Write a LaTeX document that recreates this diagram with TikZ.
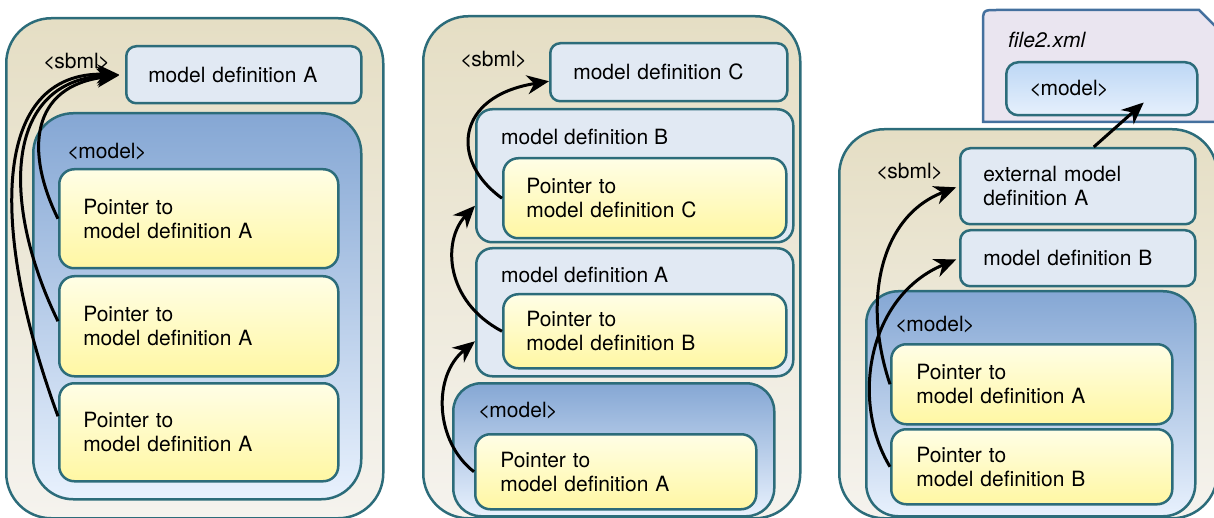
\documentclass[tikz,border=0pt]{standalone}
\usepackage{fontspec}
\setmainfont{TeX Gyre Heros}
\usetikzlibrary{arrows.meta}

\definecolor{edge}{HTML}{2C6C7A}
\definecolor{sbmltop}{HTML}{E5DEC4}
\definecolor{sbmlbot}{HTML}{F5F3EE}
\definecolor{deffill}{HTML}{E1E9F3}
\definecolor{modeltop}{HTML}{85A7D4}
\definecolor{modelbot}{HTML}{E8F1FD}
\definecolor{ptrtop}{HTML}{FFFEE6}
\definecolor{ptrbot}{HTML}{FFF7A3}
\definecolor{filefill}{HTML}{EAE5F0}
\definecolor{fileedge}{HTML}{44709E}
\definecolor{extop}{HTML}{BDD7F5}
\definecolor{exbot}{HTML}{E6F0FC}

\tikzset{
  box/.style={draw=edge, line width=2.5pt, anchor=north west, inner sep=0pt, align=left},
  sbmlbox/.style={box, rounded corners=45pt, top color=sbmltop, bottom color=sbmlbot},
  modelbox/.style={box, rounded corners=#1, top color=modeltop, bottom color=modelbot},
  defbox/.style={box, rounded corners=10pt, fill=deffill},
  ptrbox/.style={box, rounded corners=15pt, top color=ptrtop, bottom color=ptrbot},
  wh/.style 2 args={minimum width=#1pt, minimum height=#2pt},
  txt/.style 2 args={inner xsep=#1pt, text width=#2pt},
  tag/.style={anchor=west, inner sep=0pt},
  ref/.style={-{Stealth[length=22pt,width=19pt,inset=7pt]}, line width=3pt, black}
}

\begin{document}
\begin{tikzpicture}[x=1pt, y=-1pt, every node/.style={font=\fontsize{21}{24}\selectfont}]
\useasboundingbox (0,0) rectangle (1214,518);

% first file: three pointers to one definition
\node[sbmlbox, wh={377}{500}] (sbml1) at (5,17) {};
\node[tag] (sbmltag1) at (43,62) {<\kern-1pt sbml\kern-1pt>};
\node[defbox, wh={235}{57}, txt={22}{191}] (defA1) at (125,45) {model definition A};
\node[modelbox=40pt, wh={328}{386}] (model1) at (32,112) {};
\node[tag] (modeltag1) at (67,152) {<\kern-1pt model\kern-1pt>};
\node[ptrbox, wh={279}{99}, txt={24}{231}] (ptrA1a) at (58,168) {Pointer to\\model definition A};
\node[ptrbox, wh={279}{100}, txt={24}{231}] (ptrA1b) at (58,275) {Pointer to\\model definition A};
\node[ptrbox, wh={279}{98}, txt={24}{231}] (ptrA1c) at (58,382) {Pointer to\\model definition A};

% second file: chained definitions
\node[sbmlbox, wh={377}{502}] (sbml2) at (422,15) {};
\node[tag] (sbmltag2) at (460,60) {<\kern-1pt sbml\kern-1pt>};
\node[defbox, wh={237}{58}, txt={23}{191}] (defC2) at (549,42) {model definition C};
\node[defbox, rounded corners=16pt, wh={317}{133}] (defB2) at (475,108) {};
\node[tag] (defBtag2) at (501,137) {model definition B};
\node[ptrbox, wh={283}{80}, txt={23}{237}] (ptrC2) at (502,157) {Pointer to\\model definition C};
\node[defbox, rounded corners=16pt, wh={317}{128}] (defA2) at (475,247) {};
\node[tag] (defAtag2) at (501,275) {model definition A};
\node[ptrbox, wh={283}{74}, txt={23}{237}] (ptrB2) at (502,293) {Pointer to\\model definition B};
\node[modelbox=28pt, wh={321}{133}] (model2) at (452,382) {};
\node[tag] (modeltag2) at (478,411) {<\kern-1pt model\kern-1pt>};
\node[ptrbox, wh={281}{75}, txt={25}{231}] (ptrA2) at (474,433) {Pointer to\\model definition A};

% third file: external definition in file2.xml
\draw[fill=filefill, draw=fileedge, line width=2.5pt]
  (983,122) -- (983,24) .. controls (983,10) .. (997,10) -- (1199,10) -- (1218,29) -- (1218,122) -- cycle;
\node[tag, font=\fontsize{21}{24}\selectfont\itshape] (filetag) at (1008,40) {file2.xml};
\node[box, rounded corners=12pt, top color=extop, bottom color=exbot, wh={191}{53}, txt={23}{145}] (fmodel) at (1005,61) {<\kern-1pt model\kern-1pt>};
\node[sbmlbox, wh={378}{389}] (sbml3) at (838,128) {};
\node[tag] (sbmltag3) at (876,172) {<\kern-1pt sbml\kern-1pt>};
\node[defbox, wh={235}{76}, txt={23}{189}] (extA3) at (959,147) {external model\\definition A};
\node[defbox, wh={235}{56}, txt={23}{189}] (defB3) at (959,229) {model definition B};
\node[modelbox=32pt, wh={329}{225}] (model3) at (865,290) {};
\node[tag] (modeltag3) at (895,325) {<\kern-1pt model\kern-1pt>};
\node[ptrbox, wh={281}{80}, txt={25}{231}] (ptrA3) at (890,343) {Pointer to\\model definition A};
\node[ptrbox, wh={281}{75}, txt={25}{231}] (ptrB3) at (890,428) {Pointer to\\model definition B};

% references
\draw[ref, shorten >=6pt] (ptrA1a.west) .. controls +(-33,-67) and +(-95,11) .. (defA1.west);
\draw[ref, shorten >=6pt] ([yshift=5pt]ptrA1b.west) .. controls +(-56,-115) and +(-123,6) .. (defA1.west);
\draw[ref, shorten >=6pt] ([yshift=16pt]ptrA1c.west) .. controls +(-68,-185) and +(-135,-4) .. (defA1.west);

\draw[ref] (ptrC2.west) .. controls +(-52,-37) and +(-94,15) .. ([yshift=-9pt]defC2.west);
\draw[ref] (ptrB2.west) .. controls +(-57,-30) and +(-33,35) .. ([yshift=-30pt]defB2.west);
\draw[ref] (ptrA2.west) .. controls +(-39,-30) and +(-43,35) .. ([yshift=-29pt]defA2.west);

\draw[ref] ([xshift=16pt]extA3.north) -- ([xshift=42pt,yshift=14pt]fmodel.south);
\draw[ref, shorten >=3pt] (ptrA3.west) .. controls +(-28,-83) and +(-79,30) .. (extA3.west);
\draw[ref, shorten >=3pt] (ptrB3.west) .. controls +(-40,-66) and +(-91,38) .. (defB3.west);
\end{tikzpicture}
\end{document}
